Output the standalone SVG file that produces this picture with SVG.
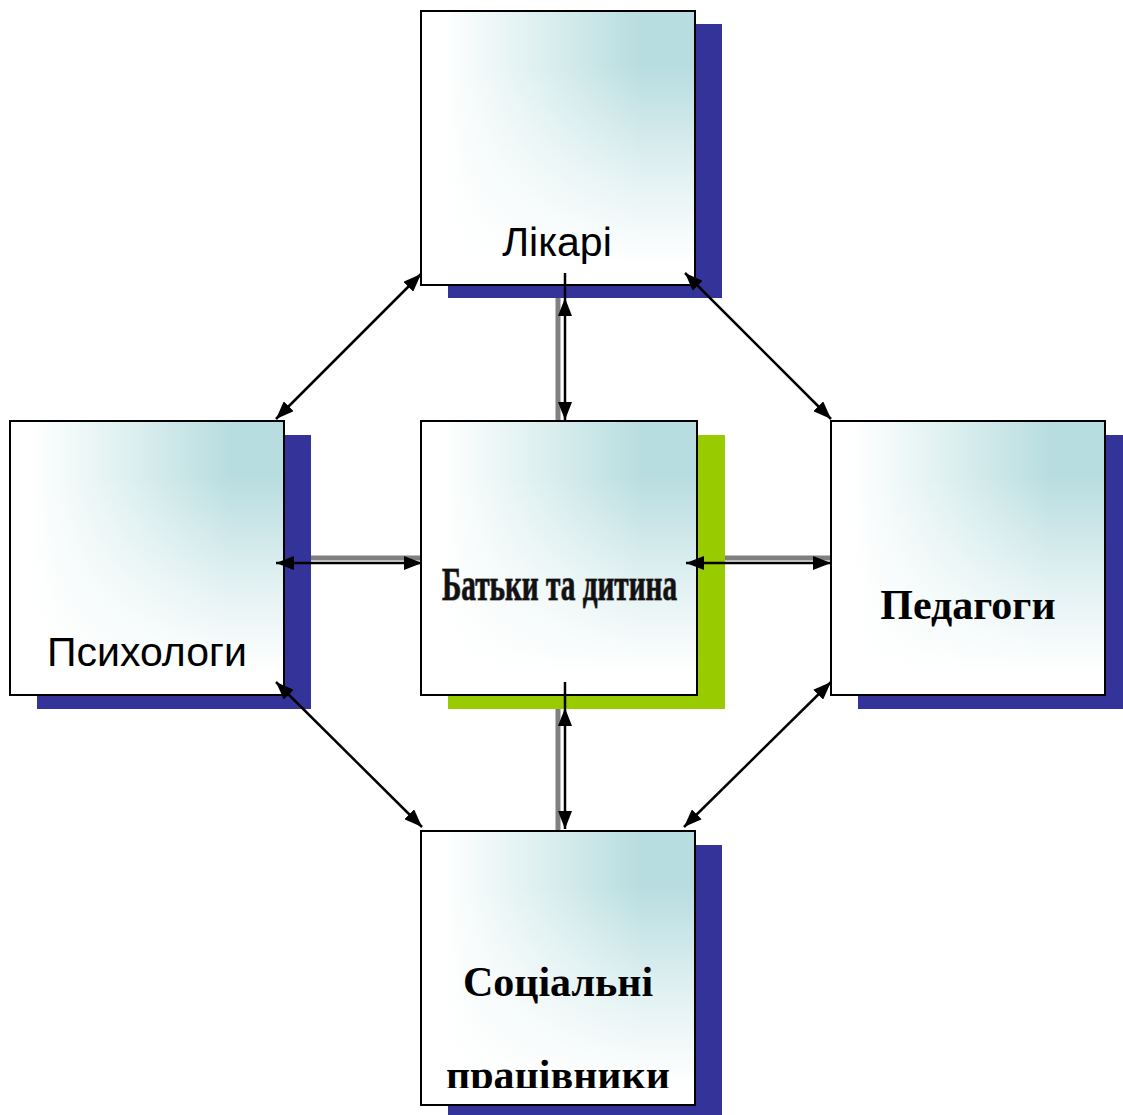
<svg xmlns="http://www.w3.org/2000/svg" width="1123" height="1115" viewBox="0 0 1123 1115">
<defs>
<linearGradient id="gh" x1="0" y1="0" x2="1" y2="0">
<stop offset="0.08" stop-color="#ffffff"/>
<stop offset="0.45" stop-color="#dcefef"/>
<stop offset="0.8" stop-color="#b8dde0"/>
<stop offset="1" stop-color="#b8dde0"/>
</linearGradient>
<linearGradient id="gv" x1="0" y1="0" x2="0" y2="1">
<stop offset="0.2" stop-color="#ffffff" stop-opacity="0"/>
<stop offset="0.6" stop-color="#ffffff" stop-opacity="0.6"/>
<stop offset="0.92" stop-color="#ffffff" stop-opacity="1"/>
</linearGradient>
<marker id="ah" viewBox="0 0 18 14" refX="18" refY="7" markerWidth="18" markerHeight="14" markerUnits="userSpaceOnUse" orient="auto-start-reverse">
<path d="M0,0 L18,7 L0,14 z" fill="#000"/>
</marker>
<clipPath id="clipBottom"><rect x="421" y="831" width="274" height="257"/></clipPath>
</defs>
<style>
.bg{fill:url(#gh)}
.box{fill:url(#gv);stroke:#000;stroke-width:2}
.sh{fill:#333399}
.shg{fill:#99cc00}
.bar{stroke:#808080;stroke-width:5;fill:none}
.arr{stroke:#000;stroke-width:2.5;fill:none}
.sans{font-family:"Liberation Sans",Arial,sans-serif;font-size:41px;fill:#000;text-anchor:middle}
.serif{font-family:"Liberation Serif","Times New Roman",serif;font-weight:bold;font-size:42px;fill:#000;text-anchor:middle}
.center{font-family:"Liberation Serif","Times New Roman",serif;font-weight:bold;font-size:46px;fill:#111;stroke:#666;stroke-width:1.2;paint-order:stroke}
</style>
<rect width="1123" height="1115" fill="#fff"/>
<g id="bars">
<line class="bar" x1="558" y1="285" x2="558" y2="421"/>
<line class="bar" x1="558" y1="695" x2="558" y2="831"/>
<line class="bar" x1="284" y1="558" x2="421" y2="558"/>
<line class="bar" x1="697" y1="558" x2="831" y2="558"/>
</g>
<g id="node-likari">
<rect class="sh" x="448" y="24" width="274" height="274"/>
<rect class="bg" x="421" y="11" width="274" height="274"/>
<rect class="box" x="421" y="11" width="274" height="274"/>
<text class="sans" x="557" y="256">Лікарі</text>
</g>
<g id="node-psykholohy">
<rect class="sh" x="37" y="435" width="274" height="274"/>
<rect class="bg" x="10" y="421" width="274" height="274"/>
<rect class="box" x="10" y="421" width="274" height="274"/>
<text class="sans" x="147" y="666">Психологи</text>
</g>
<g id="node-center">
<rect class="shg" x="448" y="435" width="277" height="274"/>
<rect class="bg" x="421" y="421" width="276" height="274"/>
<rect class="box" x="421" y="421" width="276" height="274"/>
<text class="center" x="442" y="600" textLength="235" lengthAdjust="spacingAndGlyphs">Батьки та дитина</text>
</g>
<g id="node-pedahohy">
<rect class="sh" x="858" y="435" width="265" height="274"/>
<rect class="bg" x="831" y="421" width="274" height="274"/>
<rect class="box" x="831" y="421" width="274" height="274"/>
<text class="serif" x="968" y="619">Педагоги</text>
</g>
<g id="node-sotsialni">
<rect class="sh" x="448" y="845" width="274" height="270"/>
<rect class="bg" x="421" y="831" width="274" height="274"/>
<rect class="box" x="421" y="831" width="274" height="274"/>
<g clip-path="url(#clipBottom)">
<text class="serif" x="558" y="996">Соціальні</text>
<text class="serif" x="558" y="1089">працівники</text>
</g>
</g>
<g id="connectors">
<line class="arr" x1="565" y1="273" x2="565" y2="298"/>
<line class="arr" x1="565" y1="298" x2="565" y2="420" marker-start="url(#ah)" marker-end="url(#ah)"/>
<line class="arr" x1="565" y1="682" x2="565" y2="708"/>
<line class="arr" x1="565" y1="708" x2="565" y2="829" marker-start="url(#ah)" marker-end="url(#ah)"/>
<line class="arr" x1="276" y1="563" x2="422" y2="563" marker-start="url(#ah)" marker-end="url(#ah)"/>
<line class="arr" x1="686" y1="563" x2="831" y2="563" marker-start="url(#ah)" marker-end="url(#ah)"/>
<line class="arr" x1="421" y1="274" x2="276" y2="419" marker-start="url(#ah)" marker-end="url(#ah)"/>
<line class="arr" x1="685" y1="273" x2="831" y2="419" marker-start="url(#ah)" marker-end="url(#ah)"/>
<line class="arr" x1="276" y1="682" x2="422" y2="827" marker-start="url(#ah)" marker-end="url(#ah)"/>
<line class="arr" x1="831" y1="682" x2="684" y2="827" marker-start="url(#ah)" marker-end="url(#ah)"/>
</g>
</svg>
